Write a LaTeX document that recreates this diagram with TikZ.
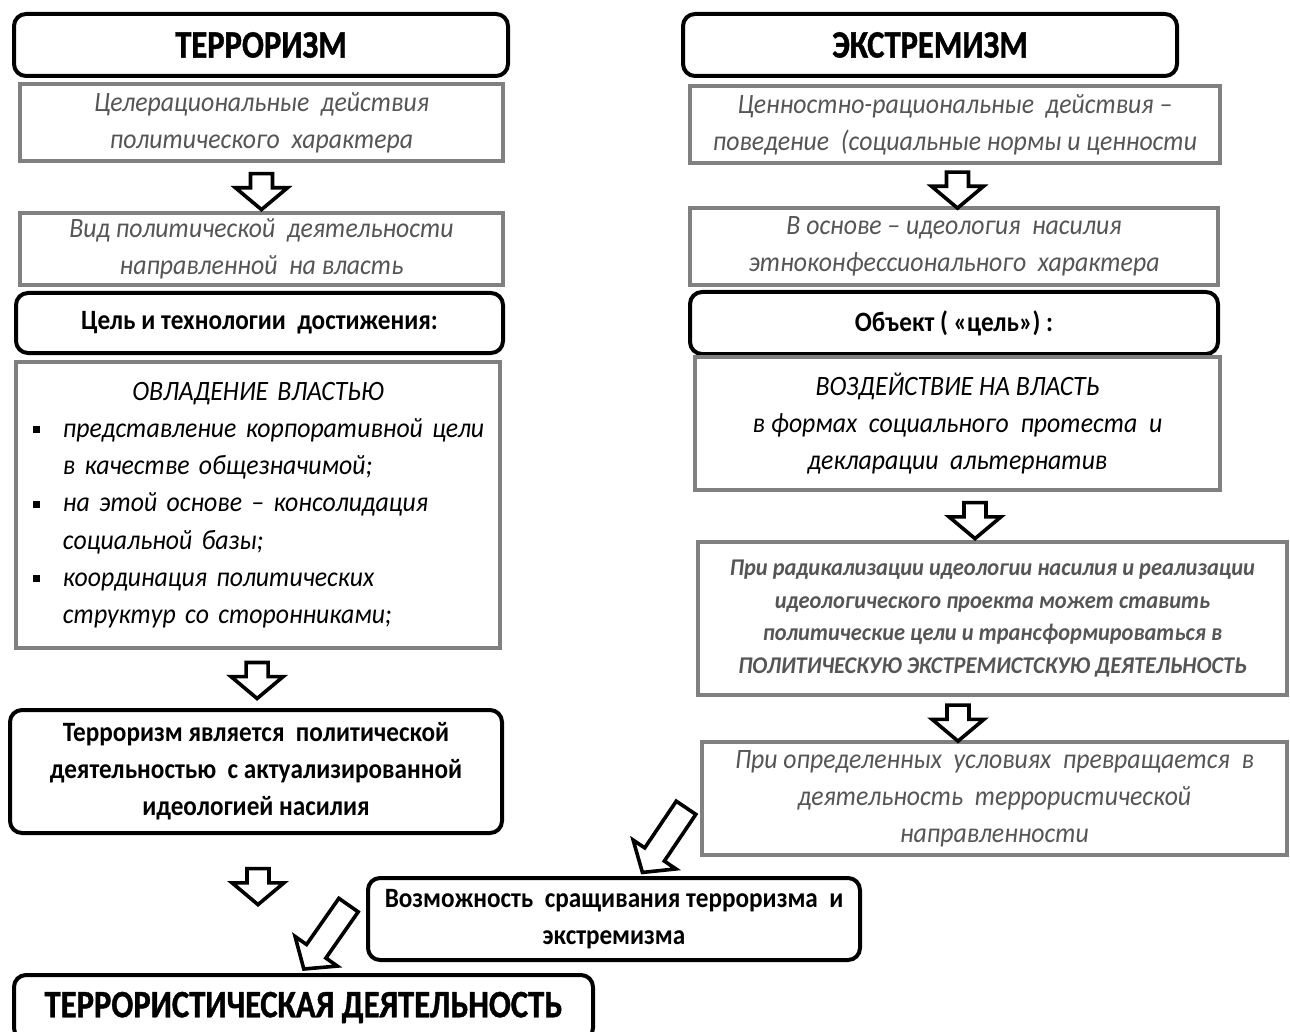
\documentclass[tikz,border=0pt]{standalone}
\usepackage{fontspec}
\setmainfont{Carlito}
\usetikzlibrary{shapes.arrows,calc}
\definecolor{bordergray}{HTML}{808080}
\definecolor{textgray}{HTML}{555555}
\newcommand{\fsz}[2]{\fontsize{#1pt}{#2pt}\selectfont}
\newcommand{\headfont}{\bfseries\addfontfeatures{FakeStretch=0.84,FakeBold=1}}
\newcommand{\bfn}{\bfseries\addfontfeatures{FakeStretch=0.9}}
\newcommand{\itn}{\itshape\addfontfeatures{FakeStretch=0.92}}
\newcommand{\bitn}{\bfseries\itshape\addfontfeatures{FakeStretch=0.935}}
\newcommand{\blt}{\makebox[15pt][l]{\rule[0.3ex]{3.5pt}{3.5pt}}}
\begin{document}
\begin{tikzpicture}[x=0.5pt,y=-0.5pt,
  blackbox/.style={draw=black, line width=2pt, rounded corners=6pt, fill=white, align=center, inner sep=0pt},
  graybox/.style={draw=bordergray, line width=1.6pt, fill=white, align=center, inner sep=0pt},
  graytext/.style={text=textgray, font=\fsz{14}{18.5}\itn},
  hollow/.style={single arrow, draw=black, line width=1.8pt, fill=white, inner sep=4.6pt,
    single arrow head extend=7.5pt, single arrow tip angle=100, minimum height=18pt},
  diaghollow/.style={hollow, minimum height=39pt, inner sep=5pt, single arrow head extend=7pt}
]
\clip (0,0) rectangle (1290,1032);
\useasboundingbox (0,0) rectangle (1290,1032);
\fill[white] (0,0) rectangle (1290,1032);

% ---------------- left column ----------------
\node[blackbox, minimum width=247pt, minimum height=31pt, font=\fsz{19.4}{22}\headfont] (terr) at (261,45) {ТЕРРОРИЗМ};
\node[graybox, graytext, minimum width=241.5pt, minimum height=38.5pt] (t1) at (261.5,122.5)
  {Целерациональные\ \ действия\\политического\ \ характера};
\node[graybox, graytext, minimum width=241.5pt, minimum height=36pt] (t2) at (261.5,249)
  {Вид политической\ \ деятельности\\направленной\ \ на власть};
\node[blackbox, minimum width=243.5pt, minimum height=30pt, font=\fsz{14}{18}\bfn] (t3) at (259.5,323)
  {Цель и технологии\ \ достижения:};
\node[graybox, minimum width=242pt, minimum height=143pt, text width=242pt, align=left,
  font=\fsz{14}{18.6}\itn] (t4) at (258,505)
  {{\centering ОВЛАДЕНИЕ ВЛАСТЬЮ\par}
   \hspace*{8.5pt}\blt представление корпоративной цели\\
   \hspace*{23.5pt}в качестве общезначимой;\\
   \hspace*{8.5pt}\blt на этой основе -- консолидация\\
   \hspace*{23.5pt}социальной базы;\\
   \hspace*{8.5pt}\blt координация политических\\
   \hspace*{23.5pt}структур со сторонниками;};
\node[blackbox, minimum width=246pt, minimum height=61.5pt, font=\fsz{14}{18.5}\bfn] (t5) at (256,771.5)
  {Терроризм является\ \ политической\\деятельностью\ \ с актуализированной\\идеологией насилия};
\node[blackbox, minimum width=289.5pt, minimum height=32.5pt, font=\fsz{19.4}{22}\headfont] (tb) at (303.5,1007.5)
  {ТЕРРОРИСТИЧЕСКАЯ ДЕЯТЕЛЬНОСТЬ};

% ---------------- right column ----------------
\node[blackbox, minimum width=247pt, minimum height=31pt, font=\fsz{19.4}{22}\headfont] (ext) at (930,45) {ЭКСТРЕМИЗМ};
\node[graybox, graytext, minimum width=265pt, minimum height=38.5pt] (e1) at (955,124.5)
  {Ценностно-рациональные\ \ действия --\\поведение\ \ (социальные\ нормы и ценности};
\node[graybox, graytext, minimum width=264pt, minimum height=38.5pt] (e2) at (954,246.5)
  {В основе -- идеология\ \ насилия\\этноконфессионального\ \ характера};
\node[blackbox, minimum width=264pt, minimum height=31pt, font=\fsz{14}{18}\bfn] (e3) at (954,323)
  {Объект ( «цель») :};
\node[graybox, minimum width=262.5pt, minimum height=66.5pt, font=\fsz{14}{18.5}\itn] (e4) at (957.5,423.5)
  {ВОЗДЕЙСТВИЕ НА ВЛАСТЬ\\в формах\ \ социального\ \ протеста\ \ и\\декларации\ \ альтернатив};
\node[graybox, minimum width=294.5pt, minimum height=76.5pt, text=textgray, font=\fsz{12}{16.3}\bitn] (e5) at (992.5,618.5)
  {При радикализации идеологии насилия и реализации\\идеологического проекта может ставить\\политические цели и трансформироваться в\\ПОЛИТИЧЕСКУЮ ЭКСТРЕМИСТСКУЮ ДЕЯТЕЛЬНОСТЬ};
\node[graybox, graytext, minimum width=292.5pt, minimum height=56.5pt] (e6) at (994.5,798.5)
  {При определенных\ \ условиях\ \ превращается\ \ в\\деятельность\ \ террористической\\направленности};

% ---------------- joint box ----------------
\node[blackbox, minimum width=246pt, minimum height=41pt, font=\fsz{14}{18.5}\bfn] (v) at (614,919)
  {Возможность\ \ сращивания терроризма\ \ и\\экстремизма};

% ---------------- hollow arrows ----------------
\node[hollow, rotate=-90] (a1) at ($(t1.south)!0.5!(t2.north)$) {};
\node[hollow, rotate=-90] (a2) at ($(t4.south)!0.45!(t5.north)$) {};
\node[hollow, rotate=-90] (a3) at ($(t5.south)+(2,47)$) {};
\node[hollow, rotate=-90] (a4) at ($(e1.south)!0.5!(e2.north)+(3,0)$) {};
\node[hollow, rotate=-90] (a5) at ($(e4.south)!0.5!(e5.north)$) {};
\node[hollow, rotate=-90] (a6) at ($(e5.south)!0.5!(e6.north)-(35.5,0)$) {};
\node[diaghollow, rotate=236] (a7) at (667,836) {};
\node[diaghollow, rotate=235] (a8) at (329,933) {};
\end{tikzpicture}
\end{document}
